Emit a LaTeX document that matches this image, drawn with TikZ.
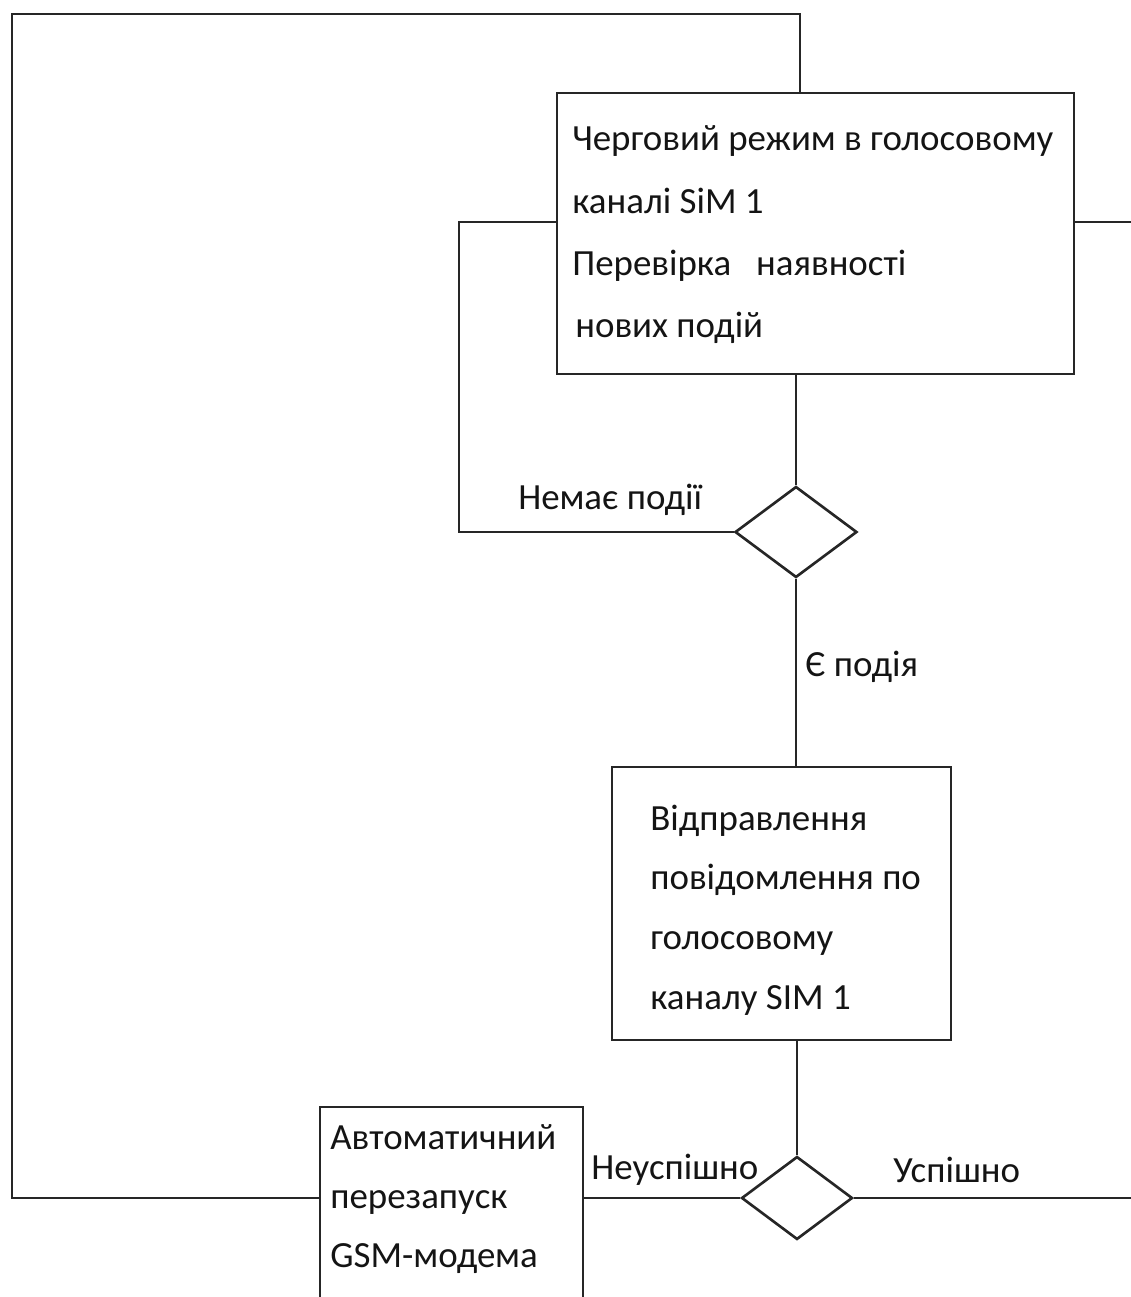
\documentclass[tikz,border=0pt]{standalone}
\usepackage{fontspec}
\setmainfont{Carlito}
\usetikzlibrary{shapes.geometric}
\begin{document}
\begin{tikzpicture}[x=0.02cm,y=-0.02cm,
  line/.style={line width=1.5pt, color=black!85},
  box/.style={draw=black!85, line width=1.5pt, rectangle, inner sep=0pt},
  dec/.style={draw=black!85, line width=1.5pt, diamond, inner sep=0pt},
  txt/.style={inner sep=0pt, align=left, text=black!92, font=\fontsize{21}{35.5}\selectfont},
  lbl/.style={inner sep=0pt, text=black!92, font=\fontsize{21}{25}\selectfont}]
  \useasboundingbox (0,0) rectangle (1131,1297);
  \clip (0,0) rectangle (1131,1297);

  % blocks
  \node[box, minimum width=10.34cm, minimum height=5.62cm] (b1) at (815.5,233.5) {};
  \node[box, minimum width=6.78cm, minimum height=5.46cm] (b2) at (781.5,903.5) {};
  \node[box, minimum width=5.26cm, minimum height=4.04cm] (b3) at (451.5,1208) {};
  \node[dec, minimum width=2.44cm, minimum height=1.82cm] (d1) at (796,532) {};
  \node[dec, minimum width=2.22cm, minimum height=1.66cm] (d2) at (797,1198) {};

  % block texts
  \node[txt, anchor=west] (t1) at (572,235) {Черговий режим в голосовому\\каналі SiM 1\\Перевірка \ \ наявності\\\hspace{0.06cm}нових подій};
  \node[txt, anchor=west, font=\fontsize{21}{34}\selectfont] (t2) at (650,910) {Відправлення\\повідомлення по\\голосовому\\каналу SIM 1};
  \node[txt, anchor=west, font=\fontsize{21}{33.5}\selectfont] (t3) at (330,1199) {Автоматичний\\перезапуск\\GSM-модема};

  % connector ends
  \coordinate (tl) at (12,14);
  \coordinate (tr) at (800,14);
  \coordinate (bl) at (12,1198);
  \coordinate (lk) at (459,222);
  \coordinate (r1) at (1131,222);
  \coordinate (r2) at (1131,1198);

  % connectors
  \draw[line] (b1.south -| d1.north) -- (d1.north);
  \draw[line] (d1.south) -- (b2.north -| d1.south);
  \draw[line] (b2.south -| d2.north) -- (d2.north);
  \draw[line] (d1.west) -| (lk) -- (lk -| b1.west);
  \draw[line] (b1.east |- r1) -- (r1);
  \draw[line] (d2.east) -- (r2);
  \draw[line] (d2.west) -- (d2.west -| b3.east);
  \draw[line] (b3.west |- bl) -- (bl) -- (tl) -- (tr) -- (tr |- b1.north);

  % labels
  \node[lbl, anchor=west] (n1) at (518,500) {Немає події};
  \node[lbl, anchor=west] (n2) at (805,667) {Є подія};
  \node[lbl, anchor=west] (n3) at (591,1170) {Неуспішно};
  \node[lbl, anchor=west] (n4) at (893,1170) {Успішно};
\end{tikzpicture}
\end{document}
